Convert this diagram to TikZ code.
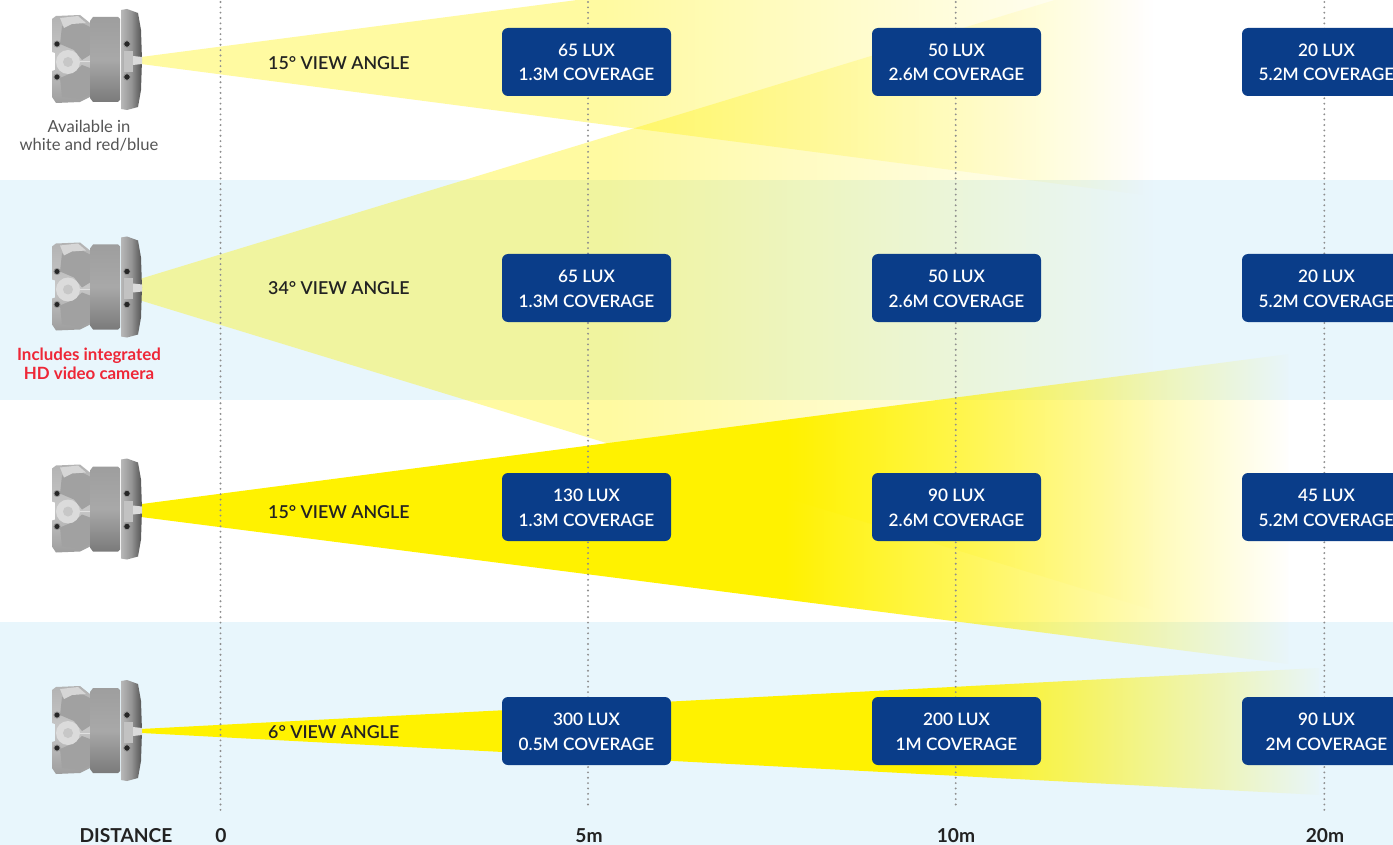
\documentclass[tikz,border=0pt]{standalone}
\usepackage{fontspec}
\setmainfont{Lato}
\newfontfamily\latomed{Lato Semibold}
\usetikzlibrary{fadings}
\definecolor{bandblue}{HTML}{E8F6FC}
\definecolor{beamy}{HTML}{FFF200}
\definecolor{boxblue}{HTML}{0A3D89}
\definecolor{dotgray}{HTML}{8E8E8E}
\definecolor{inkdark}{HTML}{222222}
\definecolor{capgray}{HTML}{555555}
\definecolor{capred}{HTML}{EE2737}
\pgfdeclarehorizontalshading{shAA}{100bp}{color(0bp)=(white); color(48bp)=(white); color(75bp)=(black); color(100bp)=(black)}
\pgfdeclarehorizontalshading{shBB}{100bp}{color(0bp)=(white); color(53bp)=(white); color(75bp)=(black); color(100bp)=(black)}
\pgfdeclarehorizontalshading{shCC}{100bp}{color(0bp)=(white); color(58bp)=(white); color(75bp)=(black); color(100bp)=(black)}
\pgfdeclarefading{fadeAA}{\pgfuseshading{shAA}}
\pgfdeclarefading{fadeBB}{\pgfuseshading{shBB}}
\pgfdeclarefading{fadeCC}{\pgfuseshading{shCC}}
\tikzset{
  band/.style={fill=bandblue,draw=none},
  paleBeam/.style={fill=beamy,fill opacity=0.37,path fading=fadeAA,draw=none},
  strongBeam/.style={fill=beamy,path fading=fadeBB,draw=none},
  narrowBeam/.style={fill=beamy,path fading=fadeCC,draw=none},
  dotline/.style={draw=dotgray,line width=2.1pt,line cap=round,dash pattern=on 0pt off 5.35pt},
  luxbox/.style={fill=boxblue,draw=none,rounded corners=6pt,minimum width=169pt,minimum height=68pt,inner sep=0pt,
    text=white,align=center,font=\latomed\fontsize{17.2}{24.8}\selectfont,text height=38pt,text depth=0pt},
  angle/.style={text=inkdark,font=\latomed\fontsize{17.8}{20}\selectfont,anchor=west,inner sep=0pt},
  axislabel/.style={text=inkdark,font=\bfseries\fontsize{19.2}{20}\selectfont,inner sep=0pt},
  capnote/.style={text=capgray,align=center,font=\fontsize{16.6}{17.5}\selectfont,inner sep=0pt},
  rednote/.style={text=capred,align=center,font=\bfseries\fontsize{16.9}{19}\selectfont,inner sep=0pt},
  hole/.style={fill=black!85,draw=black!40,line width=0.8pt},
  camera/.pic={
    % rear casing
    \shade[top color=black!30,bottom color=black!38,middle color=black!22]
      (52,19) -- (56,16) -- (80,15) -- (90,23) -- (90,97) -- (80,102) -- (56,103) -- (52,97) -- (52,71) -- (55,70) -- (55,53) -- (52,52) -- cycle;
    \fill[black!37] (62,26) -- (80,22) -- (90,27) -- (90,55) -- (82,60) -- (74,50) -- (60,44) -- cycle;
    \fill[black!37] (60,78) -- (74,72) -- (82,65) -- (90,68) -- (90,95) -- (80,99) -- (62,97) -- cycle;
    \fill[black!16] (60,18) -- (78,16) -- (86,23) -- (72,24) -- (64,28) -- cycle;
    \draw[black!12,line width=1pt] (80,62) -- (90,62);
    % middle cylinder
    \shade[top color=black!38,bottom color=black!52,middle color=black!34]
      (90,21) -- (93,17) -- (118,17) -- (120,19) -- (120,100) -- (118,102) -- (93,102) -- (90,98) -- cycle;
    % flange
    \shade[left color=black!28,right color=black!68,middle color=black!42]
      (121,10) -- (127,9) -- (138,13) -- (141,30) -- (142,60) -- (141,90) -- (138,107) -- (127,110) -- (121,109) -- cycle;
    \fill[black!24] (124,51) -- (133,51) -- (133,72) -- (124,72) -- cycle;
    \fill[black!14] (133,56) -- (142,57) -- (142,64) -- (133,65) -- cycle;
    % lens boss
    \fill[black!14] (68,62) circle (12);
    \fill[black!22] (68,62) circle (5);
    % screw holes
    \fill[hole] (57,44) circle (3.1);
    \fill[hole] (57,77) circle (3.1);
    \fill[hole] (127,44) circle (3.3);
    \fill[hole] (127,77) circle (3.3);
  }
}
\begin{document}
\begin{tikzpicture}[x=1pt,y=-1pt]
\useasboundingbox (0,0) rectangle (1393,845);
\clip (0,0) rectangle (1393,845);
\fill[white] (0,0) rectangle (1393,845);
% bands
\fill[band] (0,180) rectangle (1393,400);
\fill[band] (0,622) rectangle (1393,845);
% beams
\fill[paleBeam] (142,57) -- (1146,-74) -- (1146,195) -- (142,64) -- cycle;
\fill[paleBeam] (142,278) -- (1156,-31) -- (1156,610) -- (142,300) -- cycle;
\fill[strongBeam] (142,504) -- (1290,354) -- (1290,664) -- (142,517) -- cycle;
\fill[narrowBeam] (142,729) -- (1322,668) -- (1322,795) -- (142,733) -- cycle;
% dotted distance lines
\coordinate (d0a) at (220.5,2);   \coordinate (d0b) at (220.5,812);
\coordinate (d5a) at (588,2);     \coordinate (d5b) at (588,806);
\coordinate (d10a) at (955.7,2);  \coordinate (d10b) at (955.7,806);
\coordinate (d20a) at (1324.3,2); \coordinate (d20b) at (1324.3,810);
\draw[dotline] (d0a) -- (d0b);
\draw[dotline] (d5a) -- (d5b);
\draw[dotline] (d10a) -- (d10b);
\draw[dotline] (d20a) -- (d20b);
% cameras
\pic at (0,0) {camera};
\pic at (0,227.5) {camera};
\pic at (0,449.5) {camera};
\pic at (0,671) {camera};
% captions
\node[capnote] (capA) at (89,136) {Available in\\white and red/blue};
\node[rednote] (capB) at (89,364) {Includes integrated\\HD video camera};
% angle labels
\node[angle] (angA) at (268,63) {15° VIEW ANGLE};
\node[angle] (angB) at (268,288) {34° VIEW ANGLE};
\node[angle] (angC) at (268,512) {15° VIEW ANGLE};
\node[angle] (angD) at (268,732) {6° VIEW ANGLE};
% boxes
\node[luxbox] (a1) at (586.5,62) {65 LUX\\1.3M COVERAGE};
\node[luxbox] (a2) at (956.5,62) {50 LUX\\2.6M COVERAGE};
\node[luxbox] (a3) at (1326.5,62) {20 LUX\\5.2M COVERAGE};
\node[luxbox] (b1) at (586.5,288) {65 LUX\\1.3M COVERAGE};
\node[luxbox] (b2) at (956.5,288) {50 LUX\\2.6M COVERAGE};
\node[luxbox] (b3) at (1326.5,288) {20 LUX\\5.2M COVERAGE};
\node[luxbox] (c1) at (586.5,507) {130 LUX\\1.3M COVERAGE};
\node[luxbox] (c2) at (956.5,507) {90 LUX\\2.6M COVERAGE};
\node[luxbox] (c3) at (1326.5,507) {45 LUX\\5.2M COVERAGE};
\node[luxbox] (e1) at (586.5,731) {300 LUX\\0.5M COVERAGE};
\node[luxbox] (e2) at (956.5,731) {200 LUX\\1M COVERAGE};
\node[luxbox] (e3) at (1326.5,731) {90 LUX\\2M COVERAGE};
% axis labels
\node[axislabel] (axD) at (126,835.5) {DISTANCE};
\node[axislabel] (ax0) at (221,835.5) {0};
\node[axislabel] (ax5) at (589,835.5) {5m};
\node[axislabel] (ax10) at (956,835.5) {10m};
\node[axislabel] (ax20) at (1325,835.5) {20m};
\end{tikzpicture}
\end{document}
